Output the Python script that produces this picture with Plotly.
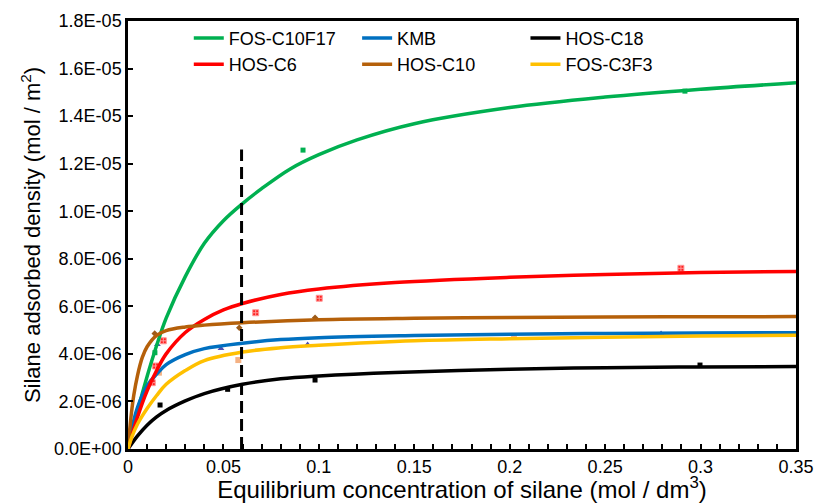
import plotly.graph_objects as go

# ---------------- data (y in units of 1E-06 mol/m2) ----------------
# fitted curves
fos10_cx = [0, 0.005, 0.01, 0.015, 0.02, 0.03, 0.04, 0.05, 0.06, 0.07, 0.085, 0.1, 0.12, 0.15, 0.2, 0.25, 0.3, 0.35]
fos10_cy = [0, 1.6, 3.05, 4.35, 5.5, 7.25, 8.65, 9.6, 10.32, 10.95, 11.78, 12.38, 13.0, 13.68, 14.36, 14.8, 15.13, 15.4]

kmb_cx = [0, 0.002, 0.005, 0.01, 0.015, 0.02, 0.03, 0.04, 0.06, 0.08, 0.1, 0.15, 0.2, 0.25, 0.3, 0.35]
kmb_cy = [0, 0.85, 1.75, 2.65, 3.15, 3.55, 3.97, 4.22, 4.45, 4.6, 4.68, 4.77, 4.83, 4.86, 4.88, 4.89]

c18_cx = [0, 0.005, 0.01, 0.015, 0.02, 0.03, 0.04, 0.06, 0.08, 0.1, 0.14, 0.2, 0.25, 0.3, 0.35]
c18_cy = [0, 0.55, 1.0, 1.35, 1.62, 2.02, 2.33, 2.72, 2.95, 3.07, 3.22, 3.35, 3.42, 3.45, 3.47]

c6_cx = [0, 0.005, 0.01, 0.015, 0.02, 0.03, 0.04, 0.05, 0.06, 0.08, 0.1, 0.14, 0.2, 0.25, 0.3, 0.35]
c6_cy = [0, 1.35, 2.45, 3.3, 4.0, 4.9, 5.45, 5.85, 6.12, 6.5, 6.73, 7.0, 7.22, 7.34, 7.42, 7.47]

c10_cx = [0, 0.001, 0.002, 0.003, 0.005, 0.0075, 0.01, 0.015, 0.02, 0.03, 0.04, 0.06, 0.1, 0.15, 0.2, 0.25, 0.3, 0.35]
c10_cy = [0, 0.9, 1.65, 2.25, 3.1, 3.85, 4.3, 4.78, 4.98, 5.13, 5.21, 5.31, 5.44, 5.5, 5.53, 5.55, 5.56, 5.57]

fos3_cx = [0, 0.002, 0.005, 0.01, 0.015, 0.02, 0.03, 0.04, 0.06, 0.08, 0.1, 0.15, 0.2, 0.25, 0.3, 0.35]
fos3_cy = [0, 0.5, 1.05, 1.7, 2.25, 2.72, 3.3, 3.72, 4.08, 4.26, 4.36, 4.55, 4.64, 4.7, 4.75, 4.78]

# measured points
fos10_px = [0.0141, 0.0917, 0.2918]
fos10_py = [4.05, 12.57, 15.05]
kmb_px = [0.0154, 0.0487, 0.0941, 0.2793]
kmb_py = [4.40, 4.23, 4.40, 4.86]
c18_px = [0.0168, 0.0522, 0.098, 0.2997]
c18_py = [1.85, 2.51, 2.90, 3.53]
c6_px = [0.0127, 0.0145, 0.0185, 0.0669, 0.1002, 0.2897]
c6_py = [2.79, 3.49, 4.55, 5.73, 6.34, 7.60]
c10_px = [0.014, 0.0583, 0.098]
c10_py = [4.86, 5.10, 5.52]
fos3_px = [0.0162, 0.0578, 0.2022]
fos3_py = [3.21, 3.74, 4.72]

# dashed reference line
ref_x = [0.0595, 0.0595]
ref_y = [0, 12.6]

x_ticks = [0, 0.05, 0.1, 0.15, 0.2, 0.25, 0.3, 0.35]
x_ticktext = ["0", "0.05", "0.1", "0.15", "0.2", "0.25", "0.3", "0.35"]
y_ticks = [0, 2, 4, 6, 8, 10, 12, 14, 16, 18]
y_ticktext = ["0.0E+00", "2.0E-06", "4.0E-06", "6.0E-06", "8.0E-06",
              "1.0E-05", "1.2E-05", "1.4E-05", "1.6E-05", "1.8E-05"]

FONT = "Arial, Liberation Sans, sans-serif"

fig = go.Figure()

# markers (drawn beneath lines)
marker_specs = [
    (fos10_px, fos10_py, dict(symbol="square", size=5, color="#00B050")),
    (kmb_px, kmb_py, dict(symbol="triangle-up", size=6, color="#4F4FB0", line=dict(width=0))),
    (c18_px, c18_py, dict(symbol="square", size=5, color="#000000")),
    (c6_px, c6_py, dict(symbol="square-cross", size=6, color="#FF2020", line=dict(width=1, color="#FF9A9A"))),
    (c10_px, c10_py, dict(symbol="diamond", size=5, color="#9C5B1A")),
    (fos3_px, fos3_py, dict(symbol="square", size=6, color="#F4B183")),
]
for px, py, mk in marker_specs:
    fig.add_trace(go.Scatter(x=px, y=py, mode="markers", marker=mk,
                             showlegend=False, hoverinfo="skip"))

# curves
curves = [
    ("FOS-C10F17", fos10_cx, fos10_cy, "#00B050", "legend"),
    ("KMB", kmb_cx, kmb_cy, "#0070C0", "legend2"),
    ("HOS-C18", c18_cx, c18_cy, "#000000", "legend3"),
    ("HOS-C6", c6_cx, c6_cy, "#FF0000", "legend"),
    ("HOS-C10", c10_cx, c10_cy, "#B5600A", "legend2"),
    ("FOS-C3F3", fos3_cx, fos3_cy, "#FFC000", "legend3"),
]
for name, cx, cy, col, lg in curves:
    fig.add_trace(go.Scatter(x=cx, y=cy, mode="lines", name=name,
                             line=dict(color=col, width=3.5, shape="spline", smoothing=1.0),
                             legend=lg))

fig.add_trace(go.Scatter(x=ref_x, y=ref_y, mode="lines", showlegend=False,
                         line=dict(color="black", width=3, dash="12px,6px"),
                         hoverinfo="skip"))

legend_common = dict(orientation="v", bgcolor="rgba(0,0,0,0)", borderwidth=0,
                     font=dict(family=FONT, size=18, color="black"),
                     itemwidth=30, tracegroupgap=0, xanchor="left", yanchor="top",
                     y=1.003)

fig.update_layout(
    width=816, height=503,
    margin=dict(l=128, r=20, t=21, b=54, autoexpand=False),
    paper_bgcolor="white", plot_bgcolor="white",
    font=dict(family=FONT, color="black"),
    legend=dict(x=0.091, **legend_common),
    legend2=dict(x=0.343, **legend_common),
    legend3=dict(x=0.595, **legend_common),
    xaxis=dict(
        range=[0, 0.35], tickvals=x_ticks, ticktext=x_ticktext,
        showgrid=False, zeroline=False, automargin=False,
        showline=True, linecolor="black", linewidth=2.5, mirror=True,
        ticks="inside", ticklen=5, tickwidth=2, tickcolor="black",
        minor=dict(dtick=0.01, tick0=0, ticks="inside", ticklen=5, tickwidth=2, tickcolor="black", showgrid=False),
        tickfont=dict(family=FONT, size=18, color="black"),
        title=dict(text="Equilibrium concentration of silane (mol / dm<sup>3</sup>)",
                   font=dict(family=FONT, size=24, color="black"), standoff=3),
    ),
    yaxis=dict(
        range=[0, 18], tickvals=y_ticks, ticktext=y_ticktext,
        showgrid=False, zeroline=False, automargin=False,
        showline=True, linecolor="black", linewidth=2.5, mirror=True,
        ticks="inside", ticklen=5, tickwidth=2, tickcolor="black",
        tickfont=dict(family=FONT, size=18, color="black"),
        title=dict(text="Silane adsorbed density (mol / m<sup>2</sup>)",
                   font=dict(family=FONT, size=22, color="black"), standoff=8),
    ),
)

fig.write_html("out.html")
